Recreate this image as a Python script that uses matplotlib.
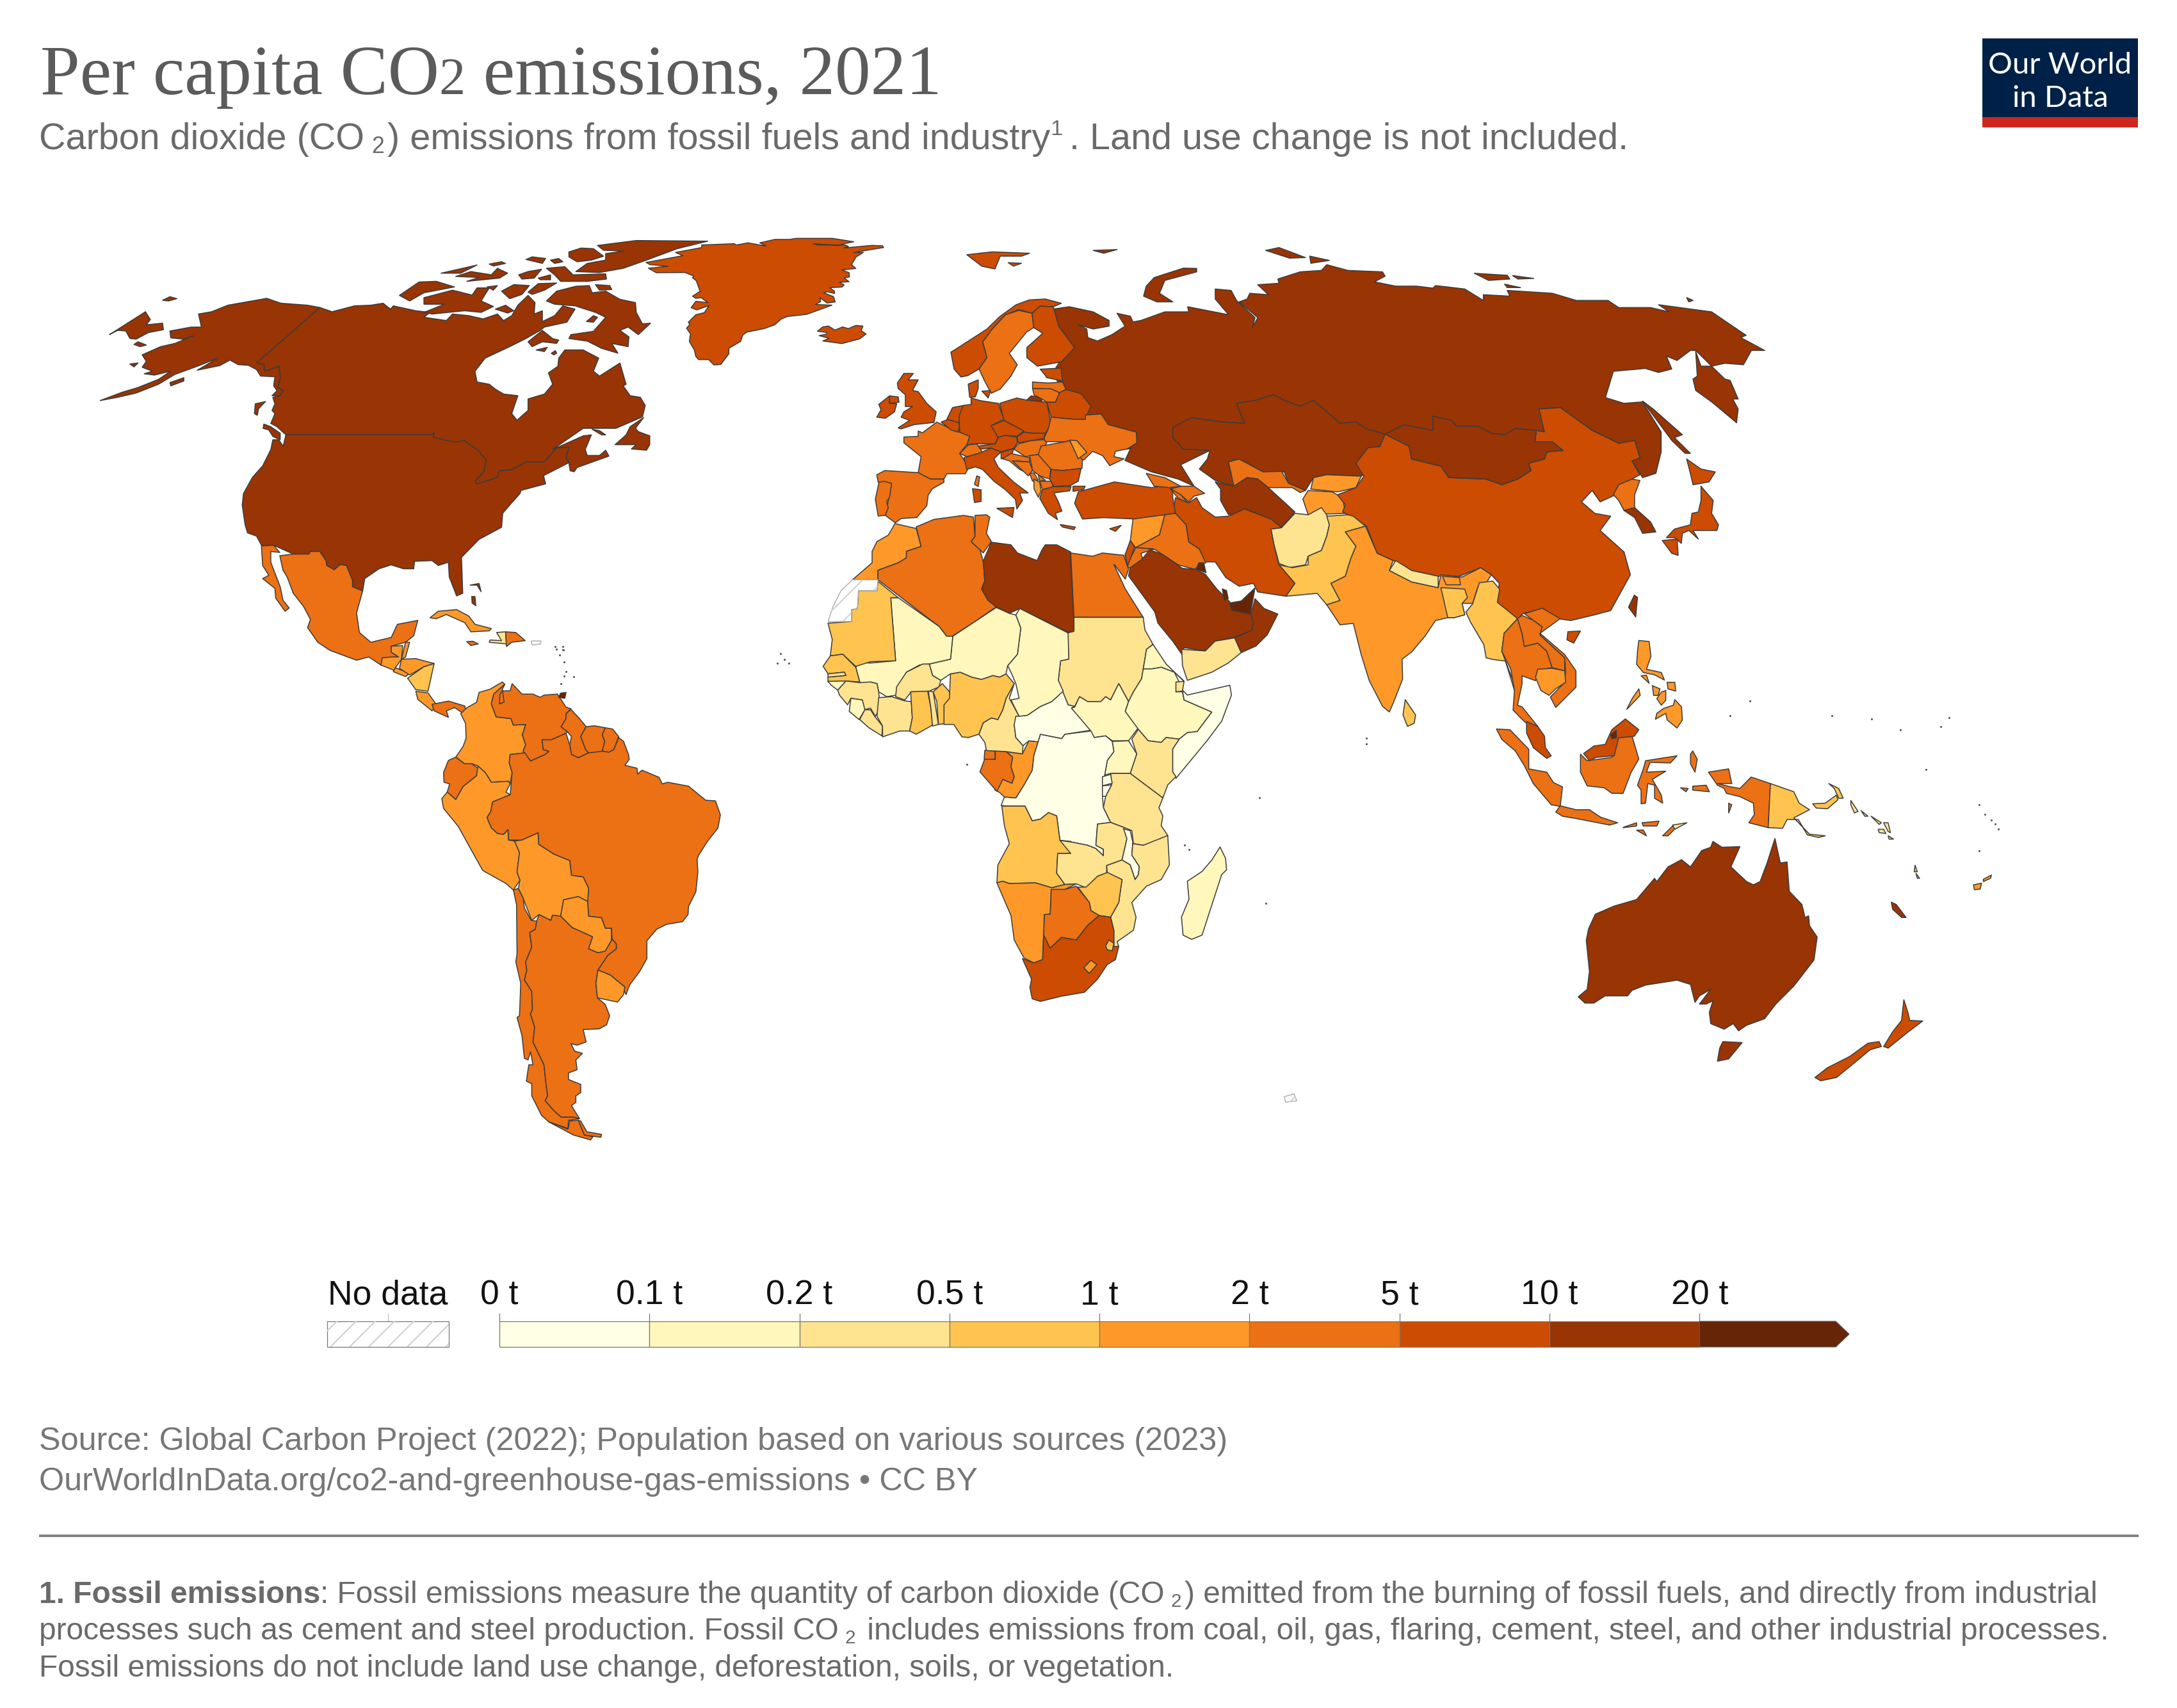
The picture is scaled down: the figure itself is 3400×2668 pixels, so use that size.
import matplotlib
matplotlib.use("Agg")
import matplotlib.pyplot as plt
from matplotlib.patches import Polygon, Rectangle
from matplotlib.collections import PatchCollection
from matplotlib.colors import BoundaryNorm, ListedColormap
import numpy as np

# ---------- value scale ----------
BIN_EDGES = [0, 0.1, 0.2, 0.5, 1, 2, 5, 10, 20, 1000]
BIN_LABELS = ["0 t", "0.1 t", "0.2 t", "0.5 t", "1 t", "2 t", "5 t", "10 t", "20 t"]
BIN_COLORS = ["#ffffe5", "#fff7bc", "#fee391", "#fec44f", "#fe9929", "#ec7014", "#cc4c02", "#993404", "#662506"]

CO2 = {
 "Canada":14.3,"USA":14.9,"Mexico":3.0,"Cuba":1.6,"Haiti":.3,"Dominican Rep":2.6,"Jamaica":2.6,"Guatemala":1.1,"Belize":1.7,
 "El Salvador":1.2,"Honduras":1.1,"Nicaragua":.8,"Costa Rica":1.6,"Panama":2.4,"Trinidad":24,
 "Colombia":1.6,"Venezuela":2.2,"Guyana":3.0,"Suriname":3.2,"French Guiana":4.5,"Brazil":2.3,"Ecuador":2.2,"Peru":1.7,"Bolivia":1.8,
 "Paraguay":1.1,"Chile":4.4,"Argentina":4.0,"Uruguay":1.9,
 "Morocco":1.8,"Algeria":3.7,"Tunisia":2.6,"Libya":11,"Egypt":2.3,"Sudan":.45,"South Sudan":.17,"Eritrea":.19,"Ethiopia":.17,"Djibouti":.4,
 "Somalia":.05,"Kenya":.38,"Uganda":.13,"Rwanda":.09,"Burundi":.05,"Tanzania":.26,"DRC":.04,"Congo":1.3,"Gabon":2.8,"Eq Guinea":2.4,
 "Cameroon":.35,"Nigeria":.6,"CAR":.04,"Chad":.14,"Niger":.12,"Mali":.19,"Mauritania":.9,"Senegal":.7,"Gambia":.25,"Guinea-Bissau":.15,
 "Guinea":.35,"Sierra Leone":.12,"Liberia":.3,"Ivory Coast":.4,"Burkina Faso":.26,"Ghana":.6,"Togo":.3,"Benin":.6,"Angola":.6,"Zambia":.4,
 "Malawi":.08,"Mozambique":.25,"Zimbabwe":.6,"Botswana":2.6,"Namibia":1.6,"South Africa":7.3,"Eswatini":.9,"Lesotho":1.2,"Madagascar":.13,
 "Saudi Arabia":18.7,"Yemen":.3,"Oman":15,"UAE":25,"Qatar":35,"Kuwait":25,"Iraq":4,"Iran":8,"Syria":1.5,"Jordan":2.1,"Israel":6.5,
 "Turkey":5.1,"Georgia":3,"Armenia":2.3,"Azerbaijan":3.7,
 "Russia":12,"Kazakhstan":14,"Uzbekistan":3.4,"Turkmenistan":12,"Kyrgyzstan":1.5,"Tajikistan":1.1,"Afghanistan":.3,"Pakistan":.85,
 "Mongolia":11,"China":8,"India":1.9,"Nepal":.45,"Bhutan":1.9,"Bangladesh":.6,"Myanmar":.7,"Thailand":3.7,"Laos":2.6,"Vietnam":3.5,
 "Cambodia":1.2,"Malaysia":8,"Indonesia":2.2,"Brunei":22,"Philippines":1.3,"Taiwan":12,"North Korea":2.1,"South Korea":11.9,"Japan":8.6,
 "Sri Lanka":.7,"PNG":.8,"Timor-Leste":.4,"Solomon":.4,"Vanuatu":.6,"Fiji":1.1,"New Caledonia":15,"Australia":15,"New Zealand":6.2,
 "Greenland":9,"Iceland":9.5,
 "Norway":7.5,"Sweden":3.8,"Finland":6.5,"UK":5.1,"Ireland":7.7,"France":4.7,"Spain":4.9,"Portugal":3.9,"Belgium":8,"Netherlands":7.1,
 "Germany":8.1,"Denmark":5.1,"Poland":8.5,"Lithuania":4.7,"Latvia":3.8,"Estonia":8,"Belarus":6.3,"Ukraine":4.6,"Czechia":9.4,"Slovakia":6.5,
 "Austria":7.3,"Switzerland":4,"Italy":5.7,"Hungary":4.9,"Slovenia":6,"Croatia":4.8,"Bosnia":4.8,"Serbia":4.9,"Montenegro":4,"Kosovo":4.3,
 "North Macedonia":3.5,"Albania":1.7,"Greece":5.6,"Bulgaria":7,"Romania":4,"Moldova":1.7,"Cyprus":6,
 "Western Sahara":None,"Puerto Rico":None,
}

# ---------- outline frames: origin and scale from outline units to picture pixels ----------
FRAMES = {
 "z1":(120,340,1000/1568,800/1568),
 "z2":(620,1000,600/1568,800/1568),
 "z3":(1280,500,700/1568,500/1500),
 "z4":(1260,800,800/1568,800/1568),
 "z5":(1500,380,1300/1568,700/1568),
 "z6":(2100,900,1100/1568,800/1568),
 "gl":(990,360,1/3,1/3),
 "d":(0,0,3400/1568,3400/1568),
}

# ---------- country outlines ----------
OUTLINES_Z1 = [
("Canada",[(595,275),(440,445),(458,450),(460,470),(495,455),(498,490),(492,520),(505,530),(497,545),(480,550),(485,570),(478,590),(485,600),(475,630),(490,640),(512,665),(868,665),(875,658),(873,672),(905,682),(930,687),(948,682),(985,715),(990,725),(1002,740),(998,775),(975,808),(980,816),(1030,795),(1035,775),(1065,772),(1100,748),(1145,748),(1175,705),(1205,703),(1198,735),(1205,750),(1208,775),(1218,778),(1225,765),(1303,730),(1295,712),(1280,728),(1250,728),(1245,710),(1255,680),(1260,665),(1240,668),(1165,710),(1240,645),(1320,645),(1385,610),(1392,575),(1380,550),(1355,545),(1338,515),(1345,510),(1330,445),(1280,485),(1265,470),(1278,430),(1240,405),(1195,405),(1180,430),(1178,455),(1155,475),(1165,510),(1145,540),(1105,555),(1105,590),(1078,620),(1065,600),(1080,545),(1045,540),(1025,525),(1010,510),(980,503),(975,470),(1000,430),(1060,395),(1100,370),(1135,345),(1145,335),(1200,320),(1220,280),(1190,270),(1170,300),(1140,318),(1140,285),(1120,295),(1122,260),(1105,238),(1080,268),(1065,300),(1045,315),(1030,295),(995,310),(960,300),(920,295),(905,315),(850,305),(865,290),(830,285),(775,270),(768,280),(750,262),(720,268),(680,270),(625,288)]),
("USA",[(595,275),(565,268),(500,262),(465,247),(370,268),(330,288),(298,295),(305,335),(280,335),(228,347),(230,368),(260,372),(285,362),(240,385),(205,395),(160,420),(170,440),(160,458),(185,470),(165,478),(190,482),(230,470),(200,495),(150,520),(110,535),(57,560),(100,550),(145,537),(200,510),(240,480),(295,455),(345,430),(295,467),(350,453),(375,436),(395,450),(420,452),(440,465),(450,485),(485,487),(482,515),(490,530),(478,545),(497,545),(505,530),(492,520),(498,490),(495,455),(460,470),(458,450),(440,445)]),
("USA",[(512,665),(505,700),(495,680),(480,680),(475,710),(455,760),(430,795),(408,845),(405,880),(412,940),(418,965),(440,975),(452,1003),(482,1003),(530,1030),(568,1030),(572,1022),(595,1022),(610,1050),(612,1065),(630,1078),(645,1062),(660,1065),(675,1110),(675,1130),(700,1143),(705,1105),(740,1075),(770,1063),(800,1075),(825,1075),(827,1052),(870,1050),(885,1065),(910,1055),(912,1100),(930,1158),(945,1150),(942,1040),(985,985),(1040,948),(1043,905),(1060,880),(1085,845),(1088,835),(1148,815),(1143,790),(1205,750),(1198,735),(1205,703),(1175,705),(1145,748),(1100,748),(1065,772),(1035,775),(1030,795),(980,816),(975,808),(998,775),(1002,740),(990,725),(985,715),(948,682),(930,687),(905,682),(873,672),(875,658),(868,665)]),
("Canada",[(458,632),(475,640),(498,660),(498,680),(480,670),(470,650),(456,645)]),
("Canada",[(437,570),(462,563),(445,585),(442,605),(435,600)]),
("Canada",[(1388,612),(1355,640),(1345,665),(1318,695),(1370,695),(1358,708),(1395,712),(1403,695),(1403,668),(1375,655),(1368,645)]),
("Canada",[(1262,648),(1280,652),(1295,665),(1285,665)]),
("Canada",[(1405,323),(1385,325),(1370,290),(1368,260),(1330,250),(1295,225),(1262,230),(1255,208),(1222,210),(1175,225),(1150,255),(1170,265),(1220,270),(1270,290),(1295,305),(1265,348),(1210,358),(1205,370),(1250,378),(1285,400),(1325,415),(1310,385),(1350,395),(1352,365),(1330,345),(1350,335),(1375,358)]),
("Canada",[(1140,345),(1105,380),(1115,395),(1140,380),(1175,385),(1180,375),(1165,370)]),
("Canada",[(850,245),(920,222),(968,237),(980,215),(1010,215),(990,255),(1020,272),(990,290),(950,285),(870,295),(850,290),(900,265),(850,265)]),
("Canada",[(790,238),(838,197),(880,195),(925,212),(850,230),(815,255)]),
("Canada",[(1275,85),(1370,70),(1545,72),(1470,95),(1395,130),(1338,155),(1280,168),(1222,165),(1250,140),(1295,130),(1295,110),(1340,102),(1290,100)]),
("Canada",[(1205,105),(1235,93),(1265,95),(1290,118),(1260,130),(1225,135),(1205,120)]),
("Canada",[(1150,155),(1195,150),(1215,175),(1295,172),(1297,188),(1250,195),(1185,195),(1170,175)]),
("Canada",[(1105,228),(1130,202),(1175,200),(1145,222),(1115,235)]),
("Canada",[(1040,225),(1070,205),(1108,208),(1090,235),(1060,248)]),
("Canada",[(892,170),(980,145),(940,170)]),
("Canada",[(928,180),(965,165),(1015,175),(1030,155),(1055,170),(1035,185),(955,195),(985,183)]),
("Canada",[(1082,175),(1105,165),(1138,158),(1120,185),(1090,188)]),
("Canada",[(1130,185),(1160,175),(1160,190),(1135,190)]),
("Canada",[(1010,142),(1040,135),(1050,140),(1020,148)]),
("Canada",[(1100,128),(1115,120),(1148,125),(1140,140)]),
("Canada",[(1160,130),(1180,125),(1190,135),(1170,140)]),
("Canada",[(1270,205),(1305,208),(1310,220),(1280,222)]),
("Canada",[(1248,318),(1265,300),(1275,305),(1265,320)]),
("Canada",[(1025,280),(1050,268),(1070,285),(1055,292)]),
("Canada",[(1005,212),(1030,208),(1020,222)]),
("Canada",[(1125,405),(1152,397),(1145,410)]),
("Canada",[(1162,415),(1172,407),(1175,415),(1168,420)]),
("USA",[(80,358),(168,288),(180,312),(170,328),(210,323),(212,343),(175,352),(145,372),(130,370),(120,347),(100,345)]),
("USA",[(210,253),(228,242),(245,248),(225,255)]),
("USA",[(140,388),(150,380),(170,390),(155,395)]),
("USA",[(130,448),(150,445),(140,457)]),
("USA",[(228,505),(262,490),(262,500),(230,515)]),
("Mexico",[(497,1035),(530,1030),(568,1030),(572,1022),(595,1022),(610,1050),(612,1065),(630,1078),(645,1062),(660,1065),(675,1110),(675,1130),(700,1143),(685,1210),(692,1270),(720,1300),(770,1285),(785,1245),(835,1233),(825,1280),(805,1300),(770,1312),(770,1330),(788,1345),(748,1348),(745,1370),(715,1345),(685,1355),(620,1325),(590,1300),(565,1255),(572,1230),(555,1190),(530,1150),(515,1100),(505,1080)]),
("Mexico",[(452,1005),(482,1003),(497,1025),(475,1022),(475,1055),(498,1130),(505,1172),(520,1195),(510,1205),(487,1165),(485,1135),(455,1105),(470,1095),(455,1065)]),
("Cuba",[(865,1225),(885,1205),(930,1200),(960,1220),(975,1245),(1015,1258),(1010,1265),(965,1268),(950,1240),(905,1215),(880,1228)]),
("Haiti",[(1028,1270),(1050,1268),(1052,1305),(1010,1300),(1012,1293),(1040,1295)]),
("Dominican Rep",[(1050,1268),(1075,1270),(1098,1295),(1065,1300),(1052,1313)]),
("Jamaica",[(955,1298),(970,1297),(983,1305),(965,1310)]),
("Puerto Rico",[(1113,1296),(1137,1296),(1135,1306),(1115,1308)]),
("USA",[(963,1125),(985,1120),(990,1145),(980,1125)]),
("USA",[(967,1160),(975,1160),(977,1188),(968,1180)]),
("Guatemala",[(748,1348),(770,1345),(788,1345),(770,1330),(770,1312),(798,1310),(795,1352),(780,1378),(785,1390),(745,1370)]),
("Belize",[(805,1300),(815,1300),(805,1345),(795,1352)]),
("El Salvador",[(780,1378),(815,1395),(805,1405),(775,1390)]),
("Honduras",[(795,1352),(830,1350),(875,1365),(850,1375),(815,1400),(790,1380)]),
("Nicaragua",[(875,1365),(860,1450),(830,1445),(810,1410),(850,1375)]),
("Costa Rica",[(830,1450),(860,1455),(880,1490),(870,1510),(835,1475)]),
("Panama",[(870,1490),(910,1480),(950,1495),(955,1525),(925,1500),(905,1510),(910,1530),(875,1510)]),
]

OUTLINES_Z2 = [
("Colombia",[(285,207),(325,190),(335,160),(380,150),(430,128),(440,135),(395,165),(385,195),(405,235),(465,240),(475,260),(525,258),(512,290),(525,320),(515,340),(522,345),(462,350),(458,375),(470,405),(462,440),(455,432),(385,435),(360,405),(330,385),(305,378),(275,378),(240,358),(270,325),(282,300),(280,255),(260,225)]),
("Venezuela",[(440,135),(395,165),(385,195),(405,235),(465,240),(475,260),(525,258),(512,290),(525,320),(515,340),(545,370),(605,350),(620,340),(597,335),(592,305),(630,305),(690,285),(695,280),(670,265),(690,240),(690,225),(710,210),(690,205),(655,165),(600,168),(585,175),(555,165),(510,165),(470,133),(462,155),(430,155),(420,165),(418,195),(437,190),(430,150)]),
("Guyana",[(710,212),(745,240),(772,265),(750,295),(770,335),(782,345),(740,360),(712,350),(705,320),(712,295),(695,280),(670,265),(690,240),(690,225)]),
("Suriname",[(772,265),(805,262),(850,268),(838,290),(848,310),(838,340),(800,348),(782,345),(770,335),(750,295)]),
("French Guiana",[(850,268),(880,272),(905,295),(885,335),(865,343),(838,340),(848,310),(838,290)]),
("Brazil",[(905,298),(925,310),(945,350),(948,365),(930,383),(980,392),(982,410),(1000,398),(1070,420),(1082,440),(1105,435),(1190,447),(1260,490),(1300,492),(1320,535),(1310,575),(1268,615),(1230,660),(1225,670),(1228,710),(1220,770),(1190,815),(1188,840),(1165,862),(1100,870),(1060,885),(1020,920),(1020,975),(990,1015),(950,1055),(935,1085),(925,1070),(930,1062),(870,1025),(820,1010),(860,965),(895,945),(895,930),(878,915),(875,882),(850,882),(835,850),(782,845),(778,800),(782,760),(760,725),(712,720),(705,675),(640,655),(578,625),(576,590),(510,612),(455,612),(453,580),(435,595),(410,592),(385,575),(367,543),(382,525),(390,495),(462,473),(470,405),(458,375),(462,350),(522,345),(545,370),(605,350),(620,340),(597,335),(592,305),(630,305),(690,285),(705,320),(712,350),(740,360),(782,345),(838,340),(865,343),(885,335)]),
("Ecuador",[(240,358),(275,378),(305,378),(330,392),(325,415),(270,448),(240,488),(205,465),(215,440),(192,435),(190,405),(210,368)]),
("Peru",[(330,385),(360,405),(385,435),(455,432),(462,440),(445,465),(462,473),(390,495),(382,525),(367,543),(385,575),(410,592),(435,595),(453,580),(455,612),(480,615),(500,650),(490,710),(502,735),(475,765),(445,745),(350,705),(320,665),(250,570),(190,515),(183,485),(205,465),(240,488),(270,448),(325,415)]),
("Bolivia",[(480,615),(510,612),(576,590),(578,625),(640,655),(705,675),(712,720),(760,725),(782,760),(778,800),(740,785),(680,795),(668,845),(635,842),(628,858),(580,840),(550,858),(515,790),(495,760),(502,735),(490,710),(500,650)]),
("Paraguay",[(680,795),(740,785),(778,800),(782,845),(835,850),(850,882),(875,882),(875,920),(850,952),(820,957),(782,945),(798,908),(715,880),(668,845)]),
("Chile",[(475,765),(495,760),(515,790),(520,820),(548,858),(570,860),(565,885),(542,895),(550,940),(525,985),(530,1010),(520,1040),(550,1075),(553,1130),(545,1145),(562,1185),(555,1230),(600,1300),(610,1370),(615,1395),(605,1410),(640,1440),(670,1460),(720,1460),(745,1465),(700,1470),(698,1495),(620,1475),(590,1455),(550,1395),(550,1358),(528,1350),(538,1300),(555,1300),(545,1260),(535,1285),(520,1280),(510,1210),(490,1155),(500,1150),(505,1050),(485,985),(490,960),(488,810)]),
("Argentina",[(570,860),(580,840),(628,858),(635,842),(668,845),(715,880),(798,908),(782,945),(820,957),(850,952),(875,920),(878,915),(895,930),(895,945),(860,965),(820,1010),(812,1050),(818,1095),(850,1115),(868,1150),(855,1178),(825,1190),(760,1192),(772,1230),(735,1240),(710,1235),(725,1258),(757,1265),(730,1285),(735,1315),(700,1325),(700,1345),(750,1360),(750,1385),(730,1395),(730,1415),(712,1425),(745,1465),(720,1460),(670,1460),(640,1440),(605,1410),(615,1395),(610,1370),(600,1300),(555,1230),(562,1185),(545,1145),(553,1130),(550,1075),(520,1040),(530,1010),(525,985),(550,940),(542,895),(565,885)]),
("Chile",[(620,1475),(698,1497),(705,1472),(740,1470),(765,1515),(800,1520),(790,1530),(720,1515)]),
("Argentina",[(740,1470),(750,1472),(775,1505),(835,1513),(832,1522),(765,1515)]),
("Uruguay",[(820,1010),(870,1025),(930,1062),(925,1085),(900,1108),(850,1100),(818,1095),(812,1050)]),
("Trinidad",[(660,175),(668,162),(690,160),(685,178)]),
]

OUTLINES_Z5 = [
("Russia",[(175,230),(205,222),(250,240),(280,270),(280,290),(250,300),(222,285),(238,300),(240,330),(258,342),(285,320),(310,290),(295,245),(320,255),(325,275),(340,270),(385,240),(430,240),(428,222),(505,250),(480,195),(480,160),(510,165),(520,200),(555,260),(550,295),(560,260),(525,205),(540,195),(545,175),(580,180),(560,145),(600,140),(598,125),(640,100),(680,95),(690,75),(730,95),(795,100),(800,115),(780,135),(820,150),(860,150),(890,157),(895,148),(950,160),(985,200),(985,180),(1035,185),(1030,165),(1115,175),(1160,200),(1220,200),(1240,225),(1300,225),(1335,240),(1315,215),(1415,240),(1480,322),(1470,330),(1515,375),(1490,375),(1475,425),(1440,420),(1415,430),(1385,375),(1375,375),(1350,410),(1330,395),(1340,440),(1315,452),(1290,438),(1230,448),(1215,540),(1250,560),(1285,555),(1320,660),(1320,730),(1310,805),(1285,820),(1265,762),(1280,750),(1270,690),(1240,700),(1190,655),(1130,575),(1090,580),(1100,660),(1085,655),(1045,648),(1025,670),(1000,665),(975,640),(935,640),(925,620),(890,605),(890,655),(835,635),(800,668),(765,650),(745,625),(715,630),(665,550),(640,570),(610,550),(590,530),(555,550),(520,560),(535,630),(490,625),(435,610),(415,640),(400,680),(420,720),(470,725),(415,775),(440,850),(410,825),(380,810),(360,800),(310,760),(325,700),(320,660),(270,635),(255,610),(235,605),(235,575),(220,530),(190,515),(175,450),(185,420),(210,365),(180,290)]),
("Russia",[(1385,378),(1395,430),(1415,430),(1440,475),(1450,480),(1465,545),(1455,545),(1465,580),(1462,628),(1415,555),(1385,515),(1380,475),(1388,465)]),
("Russia",[(1285,552),(1305,580),(1360,670),(1345,680),(1375,735),(1365,735),(1340,690),(1320,640)]),
("Russia",[(445,88),(420,87),(365,120),(350,150),(345,185),(370,205),(400,205),(375,175),(385,130),(445,100)]),
("Russia",[(250,25),(295,22),(270,35)]),
("Russia",[(575,25),(600,15),(650,50),(620,52)]),
("Russia",[(658,45),(695,60),(660,70)]),
("Russia",[(968,105),(1030,112),(1035,125),(995,130)]),
("Russia",[(1040,113),(1080,123),(1050,125)]),
("Russia",[(1025,143),(1055,155),(1030,155)]),
("Russia",[(1368,190),(1380,200),(1372,205)]),
("Norway",[(12,40),(60,30),(130,35),(115,45),(75,45),(65,90),(40,80)]),
("Norway",[(90,68),(115,70),(100,80)]),
("Norway",[(0,360),(50,300),(75,255),(105,215),(130,198),(160,195),(190,210),(175,222),(150,220),(135,245),(110,232),(85,250),(60,300),(42,345),(50,400),(35,440),(14,463),(1,468),(-12,440),(-18,381)]),
("Sweden",[(110,235),(135,245),(138,295),(125,310),(92,385),(107,425),(95,465),(75,510),(58,525),(45,480),(35,440),(50,400),(42,345),(60,300),(85,250)]),
("Finland",[(135,245),(150,220),(175,222),(185,290),(215,365),(190,415),(145,430),(125,400),(125,365),(155,315),(138,295)]),
("Kazakhstan",[(400,645),(435,610),(490,625),(535,630),(520,560),(555,550),(590,530),(610,550),(640,570),(665,550),(715,630),(745,625),(765,650),(800,668),(790,712),(768,715),(745,770),(765,805),(755,815),(690,810),(665,820),(650,865),(618,840),(610,800),(570,800),(525,755),(505,765),(515,850),(480,830),(450,790),(465,755),(470,725),(420,720),(400,680)]),
("Uzbekistan",[(505,765),(525,755),(570,800),(605,798),(618,840),(650,865),(640,872),(625,855),(580,855),(560,825),(540,820),(515,850)]),
("Turkmenistan",[(480,835),(515,850),(540,820),(560,825),(580,855),(630,940),(605,995),(585,965),(535,930),(520,945),(505,950),(490,900),(490,860)]),
("Kyrgyzstan",[(665,820),(690,810),(755,815),(745,855),(710,870),(660,860)]),
("Tajikistan",[(645,895),(655,865),(700,870),(720,890),(725,945),(655,950)]),
("China",[(800,668),(845,710),(850,755),(905,780),(920,820),(990,825),(1020,845),(1050,825),(1075,795),(1070,770),(1100,755),(1105,730),(1135,725),(1115,695),(1082,695),(1085,655),(1100,660),(1090,580),(1130,575),(1190,655),(1240,700),(1270,690),(1280,750),(1265,762),(1280,810),(1265,825),(1240,875),(1205,905),(1190,865),(1170,905),(1195,945),(1225,955),(1205,1005),(1250,1080),(1262,1160),(1225,1285),(1195,1300),(1150,1320),(1130,1315),(1095,1280),(1060,1295),(1050,1315),(1035,1295),(1010,1255),(1015,1190),(1000,1160),(980,1135),(940,1165),(900,1165),(850,1145),(815,1110),(785,1085),(765,990),(730,950),(720,940),(725,915),(710,880),(745,855),(760,815),(745,770),(768,715),(790,712)]),
("Mongolia",[(800,668),(835,635),(890,655),(890,605),(925,620),(935,640),(975,640),(1000,665),(1025,670),(1045,648),(1085,655),(1082,695),(1115,695),(1135,725),(1105,730),(1100,755),(1070,770),(1075,795),(1050,825),(1020,845),(990,825),(920,820),(905,780),(850,755),(845,710)]),
("Afghanistan",[(630,945),(655,950),(680,925),(690,950),(695,985),(690,1025),(680,1075),(655,1095),(650,1125),(620,1135),(600,1120),(590,1050),(585,1000),(605,995)]),
("Pakistan",[(600,1125),(625,1135),(655,1125),(655,1095),(680,1075),(690,1025),(695,985),(690,955),(730,950),(740,955),(763,990),(725,1010),(745,1060),(735,1105),(725,1165),(698,1190),(715,1250),(690,1265),(672,1225),(613,1235),(630,1190)]),
("Iran",[(405,890),(430,908),(445,890),(455,925),(480,958),(505,955),(535,930),(585,965),(605,995),(585,1000),(590,1050),(600,1125),(630,1190),(613,1235),(560,1220),(552,1190),(525,1200),(500,1170),(480,1115),(460,1115),(450,1070),(430,1045),(425,985),(400,945)]),
("Turkey",[(222,870),(290,835),(360,855),(400,845),(400,890),(405,945),(330,965),(270,960),(230,965),(215,910)]),
("Turkey",[(212,850),(235,850),(232,862),(212,868)]),
("Georgia",[(350,805),(385,820),(415,850),(395,855),(365,850)]),
("Azerbaijan",[(415,850),(440,850),(460,875),(440,885),(430,905),(415,880),(395,860)]),
("Armenia",[(395,858),(415,880),(428,908),(410,892)]),
("Syria",[(325,965),(385,950),(375,1020),(330,1065),(320,1040)]),
("Iraq",[(385,950),(405,945),(425,985),(430,1045),(450,1070),(462,1118),(440,1140),(410,1125),(365,1070),(330,1065),(375,1020)]),
("Jordan",[(330,1065),(365,1070),(340,1085),(345,1115),(320,1135),(310,1135),(325,1085)]),
("Israel",[(320,1040),(328,1063),(315,1130),(310,1090)]),
("India",[(725,1010),(763,990),(785,1085),(815,1110),(808,1145),(850,1185),(900,1205),(905,1160),(945,1168),(980,1135),(1000,1160),(990,1190),(975,1200),(965,1260),(945,1260),(950,1300),(930,1310),(918,1310),(895,1320),(875,1375),(850,1430),(832,1455),(833,1525),(815,1610),(808,1640),(795,1620),(770,1530),(755,1440),(740,1330),(715,1335),(690,1265),(715,1250),(698,1190),(725,1165),(735,1105),(745,1060)]),
("Nepal",[(808,1145),(820,1110),(850,1145),(900,1165),(900,1205),(850,1185)]),
("Bhutan",[(908,1165),(940,1170),(942,1195),(915,1195)]),
("Bangladesh",[(905,1205),(950,1210),(955,1240),(945,1260),(950,1300),(930,1310),(918,1310)]),
("Japan",[(1395,850),(1418,900),(1415,945),(1428,985),(1425,1005),(1380,1005),(1390,1035),(1372,1005),(1360,1015),(1358,1050),(1345,1030),(1330,1030),(1345,1000),(1375,985),(1378,945),(1390,940),(1395,900)]),
("Japan",[(1368,755),(1395,790),(1422,800),(1410,835),(1380,845),(1375,805)]),
("Japan",[(1322,1040),(1350,1035),(1352,1092),(1340,1085)]),
("North Korea",[(1240,845),(1265,825),(1280,830),(1270,880),(1270,925),(1250,935),(1240,900),(1230,880)]),
("South Korea",[(1250,935),(1270,925),(1300,975),(1310,1010),(1285,1015),(1270,960)]),
]

OUTLINES_Z3 = [
("Ireland",[(245,355),(245,390),(270,392),(262,430),(230,460),(200,455),(215,420),(207,395)]),
("UK",[(245,355),(275,360),(278,385),(245,390)]),
("UK",[(295,250),(328,250),(310,280),(345,280),(325,330),(345,335),(375,390),(408,430),(400,480),(330,490),(285,510),(275,505),(315,470),(285,455),(295,430),(325,405),(300,405),(300,350),(275,320),(272,295)]),
("France",[(410,478),(460,510),(525,542),(520,575),(490,625),(510,665),(518,700),(510,720),(445,720),(435,745),(388,745),(345,715),(355,640),(295,575),(295,548),(345,545),(345,520),(360,528)]),
("France",[(550,730),(560,735),(555,780),(542,770)]),
("Spain",[(228,705),(345,715),(388,745),(435,745),(435,760),(395,790),(380,820),(375,870),(340,925),(285,930),(265,950),(230,915),(240,850),(250,780),(205,760),(200,725)]),
("Portugal",[(208,760),(225,755),(252,765),(245,830),(235,850),(240,880),(230,915),(205,918),(195,840)]),
("Belgium",[(425,478),(450,465),(487,480),(490,500),(485,525),(460,515)]),
("Netherlands",[(445,465),(465,410),(503,400),(500,440),(487,480)]),
("Germany",[(530,365),(565,378),(625,390),(645,465),(600,495),(625,545),(615,580),(540,580),(515,585),(525,545),(490,525),(488,450),(503,400),(530,395)]),
("Denmark",[(520,300),(555,280),(555,320),(545,360),(525,362)]),
("Denmark",[(568,333),(598,330),(590,365)]),
("Poland",[(630,390),(690,365),(725,375),(795,385),(810,490),(790,530),(745,530),(715,525),(680,495),(645,470)]),
("Russia",[(725,375),(740,355),(775,362),(778,380)]),
("Lithuania",[(745,320),(810,322),(840,340),(825,385),(795,385),(778,370),(750,350)]),
("Latvia",[(745,290),(800,295),(850,290),(862,325),(840,340),(810,322),(745,320)]),
("Estonia",[(772,230),(845,225),(850,285),(795,270),(790,260)]),
("Belarus",[(840,340),(862,325),(915,345),(950,405),(935,445),(930,465),(890,465),(810,455),(795,385),(825,385)]),
("Ukraine",[(810,455),(890,465),(930,465),(930,445),(985,440),(1010,490),(1108,525),(1110,575),(1075,605),(1090,600),(1035,615),(1030,640),(1065,650),(1015,682),(990,635),(955,615),(925,655),(905,650),(925,620),(875,565),(860,570),(790,570),(785,555),(800,510)]),
("Czechia",[(600,495),(645,470),(680,495),(715,520),(690,545),(650,540),(625,550)]),
("Slovakia",[(690,548),(715,525),(745,530),(790,530),(785,555),(740,565),(695,575)]),
("Austria",[(555,590),(615,580),(625,550),(650,540),(690,548),(692,575),(680,600),(635,618),(600,600),(560,605)]),
("Switzerland",[(490,625),(520,585),(550,580),(570,620),(515,640)]),
("Italy",[(505,645),(555,625),(600,600),(635,618),(610,650),(625,690),(680,760),(730,810),(700,810),(710,845),(690,885),(685,840),(650,795),(610,755),(570,700),(545,688),(515,700)]),
("Italy",[(620,882),(680,878),(675,925)]),
("Italy",[(535,790),(565,795),(565,850),(542,855)]),
("Hungary",[(695,580),(740,565),(785,560),(795,575),(765,630),(720,640),(680,605)]),
("Slovenia",[(635,620),(680,602),(670,640),(635,650)]),
("Croatia",[(640,650),(670,625),(735,645),(735,665),(690,660),(740,725),(700,700),(665,660)]),
("Bosnia",[(675,660),(735,665),(745,705),(730,730)]),
("Serbia",[(735,635),(765,630),(810,680),(805,745),(770,730),(745,705)]),
("Montenegro",[(735,720),(750,715),(765,750),(745,755)]),
("Kosovo",[(765,725),(790,750),(770,755)]),
("North Macedonia",[(770,755),(810,755),(818,780),(780,795)]),
("Albania",[(750,745),(770,760),(775,800),(765,830),(750,790)]),
("Greece",[(780,795),(820,780),(880,780),(875,800),(820,810),(835,850),(848,895),(825,905),(832,935),(800,905),(770,835)]),
("Greece",[(842,958),(895,970),(890,982),(850,970)]),
("Romania",[(775,590),(860,570),(875,565),(910,640),(920,655),(918,695),(850,705),(810,700),(765,630)]),
("Bulgaria",[(810,700),(850,705),(915,695),(905,755),(878,775),(820,780),(805,745)]),
("Moldova",[(875,562),(900,565),(935,620),(905,650)]),
("Cyprus",[(1015,978),(1055,962),(1035,990)]),
]

OUTLINES_Z4 = [
("Morocco",[(270,35),(335,50),(350,105),(305,120),(305,140),(280,155),(218,178),(218,207),(140,207),(200,155),(200,120),(215,90),(250,70)]),
("Western Sahara",[(140,207),(218,207),(215,240),(158,240),(155,295),(137,298),(137,335),(65,335),(80,290),(105,240)]),
("Algeria",[(335,45),(390,22),(480,10),(510,15),(515,75),(503,90),(530,115),(540,150),(545,210),(535,235),(555,270),(580,290),(500,345),(445,380),(428,380),(405,350),(218,207),(218,178),(280,155),(305,140),(305,120),(350,105)]),
("Tunisia",[(515,10),(550,8),(560,15),(550,65),(565,90),(540,125),(530,115),(503,90),(515,75)]),
("Libya",[(565,92),(625,100),(645,125),(705,148),(720,115),(730,100),(765,100),(808,122),(808,160),(820,365),(800,368),(652,295),(620,310),(580,290),(555,270),(535,235),(545,210),(540,150)]),
("Egypt",[(808,125),(875,135),(905,125),(970,132),(985,175),(975,205),(945,165),(940,160),(975,235),(1000,275),(1030,322),(818,322)]),
("Sudan",[(818,322),(1030,322),(1035,360),(1060,405),(1040,420),(1030,480),(1025,510),(1000,550),(985,580),(955,525),(930,575),(915,565),(900,580),(860,580),(835,565),(820,595),(800,590),(783,550),(770,515),(777,455),(802,450),(798,370),(818,365)]),
("South Sudan",[(820,597),(835,565),(860,580),(900,580),(915,565),(930,575),(955,525),(985,580),(975,610),(1015,660),(985,700),(935,700),(915,685),(880,690),(868,670),(830,630),(810,600)]),
("Eritrea",[(1060,405),(1100,465),(1155,518),(1125,490),(1085,475),(1055,480),(1030,480),(1040,420)]),
("Ethiopia",[(1030,480),(1055,480),(1085,475),(1125,490),(1140,520),(1130,550),(1150,550),(1155,575),(1240,612),(1195,672),(1165,675),(1140,695),(1100,690),(1085,705),(1045,700),(1015,665),(975,610),(985,580),(1000,550),(1025,510)]),
("Djibouti",[(1130,520),(1155,518),(1150,548),(1130,550)]),
("Somalia",[(1150,545),(1165,560),(1295,530),(1300,560),(1270,640),(1225,700),(1130,815),(1120,795),(1120,725),(1140,695),(1165,675),(1195,672),(1240,612),(1155,575)]),
("Kenya",[(1015,665),(1045,700),(1085,705),(1100,690),(1140,695),(1120,725),(1120,795),(1130,810),(1105,835),(1090,875),(990,800),(1010,740),(995,695)]),
("Uganda",[(935,702),(985,700),(1010,740),(990,800),(930,800),(912,805),(920,760),(940,733)]),
("Tanzania",[(930,800),(990,800),(1090,875),(1078,905),(1090,930),(1085,960),(1105,990),(1070,1010),(1030,1020),(1000,1015),(995,975),(970,965),(930,950),(908,905),(915,870),(933,835)]),
("DRC",[(715,680),(780,693),(790,680),(870,670),(880,690),(915,685),(935,702),(940,733),(920,760),(912,805),(905,870),(908,905),(930,950),(890,955),(885,1020),(908,1032),(908,1052),(885,1030),(860,1020),(810,1010),(775,1005),(765,930),(740,920),(715,940),(690,945),(668,900),(610,900),(595,898),(605,872),(640,875),(665,835),(690,790),(695,745),(708,703)]),
("Rwanda",[(905,810),(930,803),(935,830),(905,838)]),
("Burundi",[(905,838),(933,835),(915,870),(905,870)]),
("Congo",[(680,700),(708,703),(695,745),(690,790),(665,835),(640,875),(605,872),(590,858),(575,850),(600,818),(628,830),(635,810),(625,780),(630,750),(610,733),(660,740)]),
("Gabon",[(545,755),(577,757),(577,730),(610,733),(630,750),(625,780),(635,810),(628,830),(600,818),(582,855),(530,795)]),
("Eq Guinea",[(545,730),(577,730),(577,757),(542,757)]),
("Cameroon",[(635,525),(620,570),(650,625),(635,650),(640,690),(662,715),(660,740),(610,733),(550,730),(545,705),(527,680),(540,645),(565,630),(585,635),(600,605),(610,570)]),
("Nigeria",[(440,495),(470,490),(505,505),(535,512),(570,500),(590,505),(610,495),(635,525),(610,570),(600,605),(585,635),(565,630),(540,645),(527,680),(495,690),(475,688),(450,650),(420,650),(420,590),(437,560)]),
("CAR",[(640,625),(675,622),(715,595),(750,580),(783,548),(800,590),(820,595),(810,600),(868,668),(790,680),(780,693),(715,680),(708,703),(680,700),(662,715),(640,690),(635,650)]),
("Chad",[(652,295),(800,370),(802,450),(777,455),(770,515),(785,548),(750,580),(715,595),(675,622),(650,625),(625,575),(650,570),(640,525),(625,490),(615,470),(645,435),(655,355),(640,315)]),
("Niger",[(580,292),(620,310),(640,315),(655,355),(645,435),(615,470),(610,495),(590,505),(570,500),(535,512),(505,505),(470,490),(440,495),(410,515),(385,500),(375,465),(440,450),(447,380),(500,345)]),
("Mali",[(257,262),(280,262),(405,350),(428,380),(447,380),(440,450),(375,465),(345,468),(305,490),(275,560),(245,565),(220,550),(215,525),(195,520),(165,530),(150,475),(160,460),(195,462),(272,455)]),
("Mauritania",[(65,340),(137,335),(137,298),(155,295),(158,240),(215,240),(218,212),(280,262),(257,262),(272,455),(195,458),(150,472),(110,435),(72,440),(78,390)]),
("Senegal",[(50,472),(72,440),(110,435),(150,475),(162,520),(120,517),(65,520),(65,505),(120,500),(115,490),(65,495)]),
("Gambia",[(65,495),(115,490),(120,500),(65,505)]),
("Guinea-Bissau",[(65,518),(120,517),(95,545),(75,530)]),
("Guinea",[(120,517),(162,522),(195,520),(215,525),(220,550),(225,600),(210,625),(195,600),(175,605),(170,575),(135,570),(125,590),(100,560),(95,545)]),
("Sierra Leone",[(135,570),(170,575),(178,605),(160,635),(130,610)]),
("Liberia",[(178,605),(195,605),(210,628),(232,655),(230,685),(190,660),(162,635)]),
("Ivory Coast",[(220,568),(260,565),(300,578),(320,580),(323,630),(315,670),(285,670),(232,688),(232,655),(215,625)]),
("Burkina Faso",[(272,565),(275,535),(305,490),(355,465),(375,465),(385,500),(410,515),(405,535),(370,550),(320,550),(300,575)]),
("Ghana",[(318,550),(370,548),(380,600),(385,652),(335,680),(315,670),(323,630)]),
("Togo",[(372,548),(387,550),(403,650),(385,655),(380,600)]),
("Benin",[(387,550),(415,525),(437,550),(437,570),(420,590),(420,648),(403,650),(398,580)]),
("Angola",[(597,900),(668,900),(690,945),(715,940),(740,920),(765,930),(775,1005),(808,1008),(808,1045),(768,1045),(765,1105),(790,1140),(750,1150),(700,1135),(620,1137),(600,1130),(582,1135),(585,1080),(620,1015),(605,960)]),
("Zambia",[(775,1005),(810,1010),(860,1020),(885,1030),(908,1052),(908,1032),(885,1020),(890,955),(930,950),(970,965),(980,1000),(965,1065),(918,1082),(918,1105),(890,1115),(855,1150),(825,1138),(790,1140),(765,1105),(768,1045),(808,1045)]),
("Malawi",[(970,970),(990,975),(998,1010),(995,1050),(1018,1085),(1015,1110),(1005,1125),(990,1080),(965,1065),(980,1000)]),
("Mozambique",[(998,1015),(1030,1020),(1105,990),(1110,1080),(1085,1125),(1040,1145),(995,1195),(1008,1240),(1000,1280),(950,1315),(955,1330),(940,1330),(940,1280),(930,1240),(955,1195),(965,1125),(920,1105),(918,1082),(965,1065),(990,1080),(1005,1125),(1015,1110),(1018,1085),(995,1050)]),
("Zimbabwe",[(855,1148),(890,1115),(920,1103),(965,1125),(955,1195),(930,1240),(895,1235),(870,1220),(865,1195),(830,1148)]),
("Botswana",[(748,1155),(790,1155),(825,1145),(865,1195),(870,1220),(895,1235),(860,1265),(825,1310),(780,1302),(745,1335),(725,1295),(727,1232),(745,1230)]),
("Namibia",[(582,1135),(600,1130),(620,1137),(700,1135),(750,1150),(790,1140),(825,1138),(790,1155),(748,1155),(745,1230),(727,1232),(722,1370),(695,1380),(665,1365),(635,1310),(625,1235)]),
("South Africa",[(660,1367),(695,1380),(722,1370),(725,1295),(745,1335),(780,1302),(825,1310),(860,1265),(895,1235),(930,1240),(940,1280),(940,1330),(955,1330),(945,1370),(920,1385),(890,1430),(850,1470),(780,1482),(715,1498),(690,1490),(683,1455),(688,1430)]),
("Eswatini",[(925,1310),(940,1320),(935,1343),(920,1340),(915,1328)]),
("Lesotho",[(870,1372),(888,1385),(865,1412),(848,1395)]),
("Madagascar",[(1265,1025),(1282,1060),(1285,1095),(1270,1110),(1210,1295),(1178,1308),(1152,1295),(1147,1240),(1170,1185),(1165,1130),(1210,1100),(1240,1065)]),
("Saudi Arabia",[(1050,115),(1090,130),(1150,172),(1190,175),(1220,190),(1255,235),(1295,275),(1300,300),(1360,312),(1368,340),(1362,362),(1305,385),(1250,395),(1220,425),(1155,415),(1148,435),(1120,395),(1075,340),(1065,305),(985,195),(990,170),(1025,145)]),
("Yemen",[(1148,420),(1220,425),(1250,395),(1310,385),(1330,430),(1290,462),(1240,490),(1165,515),(1150,470)]),
("Oman",[(1310,385),(1362,362),(1368,340),(1360,312),(1372,265),(1400,295),(1442,312),(1410,375),(1375,410),(1330,430)]),
("UAE",[(1295,278),(1330,272),(1372,232),(1358,312),(1300,300)]),
("Qatar",[(1272,235),(1285,240),(1290,265),(1278,270)]),
("Kuwait",[(1200,155),(1215,155),(1222,185),(1192,175)]),
]

OUTLINES_Z6 = [
("Sri Lanka",[(135,378),(158,425),(155,450),(140,460),(130,425)]),
("Myanmar",[(330,15),(345,40),(340,80),(385,130),(355,175),(350,230),(372,310),(385,345),(378,350),(358,260),(330,255),(315,250),(310,210),(280,140),(270,110),(285,85),(300,20)]),
("Thailand",[(355,175),(385,130),(395,175),(400,215),(430,205),(450,230),(462,280),(430,290),(425,320),(395,305),(395,330),(385,395),(395,400),(430,460),(420,465),(400,445),(375,410),(378,350),(370,285),(350,230)]),
("Laos",[(395,120),(420,135),(440,155),(435,180),(490,250),(490,290),(462,280),(450,230),(430,205),(400,215),(395,175),(385,130)]),
("Vietnam",[(400,115),(440,98),(480,130),(435,175),(490,240),(515,290),(515,340),(470,402),(458,370),(490,325),(492,290),(490,250),(435,180),(440,155),(420,135)]),
("Cambodia",[(430,285),(462,282),(490,290),(492,325),(470,345),(455,365),(437,350),(425,310)]),
("Malaysia",[(405,445),(430,460),(445,490),(447,525),(460,550),(450,558),(420,525),(405,480)]),
("Indonesia",[(338,468),(368,470),(410,530),(410,590),(450,600),(465,632),(485,645),(480,705),(460,700),(420,635),(400,580),(380,535),(350,500)]),
("Indonesia",[(480,703),(515,715),(545,715),(570,738),(608,755),(590,762),(515,742),(485,735),(470,722)]),
("Indonesia",[(640,490),(655,560),(638,600),(620,665),(595,665),(578,648),(540,642),(525,600),(525,545),(540,565),(595,555),(610,495)]),
("Malaysia",[(625,437),(655,470),(645,490),(610,495),(600,550),(560,555),(545,565),(532,543),(555,520),(580,515),(595,470)]),
("Brunei",[(605,472),(605,495),(595,498),(592,485)]),
("Indonesia",[(670,565),(740,550),(725,572),(680,570),(672,600),(715,597),(685,622),(705,670),(708,695),(690,680),(690,640),(675,635),(670,695),(660,697),(660,655),(652,640),(665,590)]),
("Indonesia",[(708,795),(730,765),(738,770),(720,795)]),
("Timor-Leste",[(730,762),(762,755),(735,775)]),
("Indonesia",[(622,768),(650,755),(650,765),(620,770)]),
("Indonesia",[(662,755),(700,750),(695,765),(665,765)]),
("Indonesia",[(650,778),(665,777),(672,795)]),
("Indonesia",[(748,648),(765,650),(760,660)]),
("Indonesia",[(775,643),(805,640),(812,660),(775,655)]),
("Indonesia",[(855,695),(862,700),(855,725)]),
("Indonesia",[(770,545),(775,535),(785,560),(780,600),(770,575)]),
("Indonesia",[(810,600),(855,590),(862,635),(830,635),(860,645),(880,650),(905,615),(948,635),(943,770),(900,755),(912,730),(910,695),(880,675),(850,665),(845,650),(830,640)]),
("PNG",[(948,635),(1000,660),(1012,695),(1035,715),(1000,740),(1035,790),(1070,795),(1055,800),(1030,792),(1010,745),(985,745),(975,772),(943,770)]),
("PNG",[(1042,697),(1070,695),(1095,670),(1098,685),(1075,712),(1050,710)]),
("PNG",[(1078,635),(1100,650),(1110,680),(1100,680),(1090,650)]),
("Solomon",[(1127,687),(1143,720),(1135,725),(1127,700)]),
("Solomon",[(1150,718),(1165,735),(1158,735)]),
("Solomon",[(1172,735),(1195,755),(1190,760)]),
("Solomon",[(1200,755),(1210,755),(1215,785),(1210,782)]),
("Solomon",[(1188,775),(1200,775),(1205,788),(1190,785)]),
("Solomon",[(1210,795),(1222,805),(1212,805)]),
("Philippines",[(655,197),(678,200),(682,245),(672,285),(705,295),(712,318),(690,302),(665,295),(650,270),(652,230)]),
("Philippines",[(660,305),(672,303),(678,328)]),
("Philippines",[(655,345),(658,365),(628,408),(640,375)]),
("Philippines",[(685,335),(702,345),(698,365),(688,365)]),
("Philippines",[(718,325),(735,325),(737,352),(720,345)]),
("Philippines",[(705,355),(715,350),(715,380),(705,395),(695,375)]),
("Philippines",[(735,378),(750,400),(752,440),(740,465),(718,440),(715,420),(692,438),(695,420),(710,405),(732,395)]),
("Taiwan",[(645,58),(652,65),(648,125),(632,95)]),
("China",[(497,170),(525,168),(510,205),(495,195)]),
("Australia",[(820,812),(840,830),(880,828),(860,890),(895,935),(910,945),(925,935),(940,880),(958,803),(970,878),(985,875),(990,965),(1018,1005),(1025,1045),(1033,1040),(1035,1070),(1052,1105),(1045,1175),(1000,1255),(960,1310),(935,1355),(895,1375),(877,1392),(865,1370),(845,1387),(815,1370),(812,1335),(820,1300),(805,1310),(790,1310),(815,1265),(790,1285),(780,1305),(770,1250),(740,1237),(670,1252),(640,1268),(630,1285),(580,1285),(555,1307),(535,1307),(520,1288),(540,1265),(545,1210),(538,1115),(543,1080),(558,1035),(600,1010),(650,990),(690,925),(695,935),(720,890),(750,868),(770,890),(795,840),(815,830)]),
("Australia",[(842,1425),(885,1428),(855,1478),(830,1485),(835,1445)]),
("New Zealand",[(1245,1297),(1255,1340),(1258,1360),(1287,1362),(1255,1395),(1210,1445),(1200,1440),(1220,1395),(1240,1360),(1243,1320)]),
("New Zealand",[(1190,1425),(1195,1440),(1170,1450),(1135,1490),(1095,1535),(1060,1545),(1047,1535),(1075,1505),(1125,1470),(1165,1430)]),
("New Caledonia",[(1217,998),(1228,1005),(1250,1045),(1240,1045),(1220,1020)]),
("Fiji",[(1400,945),(1418,940),(1415,958),(1402,960)]),
("Fiji",[(1422,928),(1440,915),(1438,925),(1422,935)]),
("Vanuatu",[(1270,885),(1275,905),(1268,905)]),
("Vanuatu",[(1272,910),(1280,925),(1275,925)]),
]

OUTLINES_GL = [
("Greenland",[(57,150),(230,118),(195,103),(318,80),(318,68),(470,62),(480,68),(535,58),(590,68),(620,73),(590,58),(660,42),(730,42),(760,37),(930,37),(1030,53),(985,62),(960,70),(840,62),(860,68),(990,68),(1005,75),(985,82),(1115,70),(1165,72),(1170,80),(1030,103),(1075,103),(1040,125),(1020,160),(1040,178),(975,185),(1008,198),(1010,218),(985,222),(1008,240),(963,243),(985,255),(975,265),(918,268),(940,285),(940,295),(905,287),(890,292),(935,310),(943,335),(905,340),(872,315),(875,333),(850,347),(928,350),(810,393),(720,403),(690,415),(660,442),(610,460),(530,476),(510,490),(500,520),(445,552),(445,578),(407,628),(375,630),(350,605),(303,605),(290,590),(283,560),(260,520),(265,485),(247,458),(262,440),(255,430),(290,395),(330,385),(352,352),(295,372),(268,362),(290,332),(347,338),(315,315),(290,318),(275,308),(310,285),(292,235),(275,222),(280,213),(240,197),(105,198),(68,177),(160,168),(75,160)]),
("Iceland",[(860,472),(885,452),(912,448),(942,467),(978,452),(1005,460),(1040,445),(1073,448),(1065,470),(1088,485),(1058,508),(975,530),(885,518),(915,505),(868,493),(905,485),(903,478)]),
]

OUTLINES_D = [
("Puerto Rico",[(925,790),(932,788),(934,793),(926,794)]),
]

# tiny islands drawn as dots, in outline units of their frame
DOTS_X = [652,677,677,683,690,683,722,670]
DOTS_Y = [27,20,30,67,97,110,112,133]
DOTS_Z4_X = [490,1157,1170,1385,1405]
DOTS_Z4_Y = [772,1020,1032,875,1197]
DOTS_Z6_X = [903,858,1085,1173,1238,1345,1327,1295,1412,1425,1440,1448,1456,1412,48,48]
DOTS_Z6_Y = [383,427,428,438,471,434,460,592,699,730,747,758,775,841,495,513]
DOTS_D_X = [562,565,568,560,400,406,403]
DOTS_D_Y = [471,475,478,478,466,468,472]

SOURCE_LINES = ["Source: Global Carbon Project (2022); Population based on various sources (2023)",
                "OurWorldInData.org/co2-and-greenhouse-gas-emissions \u2022 CC BY"]

# ---------- figure ----------
DPI = 100
plt.rcParams["font.family"] = ["Liberation Sans", "DejaVu Sans"]
fig = plt.figure(figsize=(34, 26.68), dpi=DPI)
ax = fig.add_axes([0, 0, 1, 1])
ax.set_xlim(0, 3400); ax.set_ylim(2668, 0); ax.axis("off")

cmap = ListedColormap(BIN_COLORS)
norm = BoundaryNorm(BIN_EDGES, cmap.N)

def to_px(frame, ring):
    ox, oy, sx, sy = FRAMES[frame]
    a = np.asarray(ring, float)
    return np.column_stack([ox + a[:, 0]*sx, oy + a[:, 1]*sy])

def hatch_lines(patch, verts, spacing=34, color="#d0d0d0"):
    """Sparse 45-degree stripes, clipped to the patch."""
    lo, hi = (verts[:, 0] + verts[:, 1]).min(), (verts[:, 0] + verts[:, 1]).max()
    for c in np.arange(lo + spacing/2, hi, spacing):
        ln, = ax.plot([verts[:, 0].min()-5, verts[:, 0].max()+5],
                      [c - verts[:, 0].min() + 5, c - verts[:, 0].max() - 5],
                      color=color, lw=1.5, zorder=patch.get_zorder()+.1, scalex=False, scaley=False)
        ln.set_clip_path(patch)

patches, vals, nodata = [], [], []
for frame, group in [("z1", OUTLINES_Z1), ("z2", OUTLINES_Z2), ("z5", OUTLINES_Z5), ("z3", OUTLINES_Z3),
                     ("z4", OUTLINES_Z4), ("z6", OUTLINES_Z6), ("gl", OUTLINES_GL), ("d", OUTLINES_D)]:
    for name, ring in group:
        v = CO2[name]
        verts = to_px(frame, ring)
        if v is None:
            nodata.append(verts)
        else:
            patches.append(Polygon(verts, closed=True)); vals.append(v)

pc = PatchCollection(patches, cmap=cmap, norm=norm, edgecolor="#3c3c3c", linewidth=1.1, joinstyle="round", zorder=2)
pc.set_array(np.array(vals))
ax.add_collection(pc)
for verts in nodata:
    p = Polygon(verts, closed=True, facecolor="white", edgecolor="#aaaaaa", linewidth=1.0, zorder=2)
    ax.add_patch(p)
    hatch_lines(p, verts)

dot_groups = [("z2", DOTS_X, DOTS_Y), ("z4", DOTS_Z4_X, DOTS_Z4_Y), ("z6", DOTS_Z6_X, DOTS_Z6_Y), ("d", DOTS_D_X, DOTS_D_Y)]
for frame, xs, ys in dot_groups:
    pts = to_px(frame, list(zip(xs, ys)))
    ax.scatter(pts[:, 0], pts[:, 1], s=5, color="#555555", linewidths=0, zorder=3)

# ---------- text helper ----------
renderer = fig.canvas.get_renderer()
def runs(x, y, parts, color="#6a6a6a", size=36, family=None):
    for part in parts:
        s, opts = part if isinstance(part, tuple) else (part, {})
        fs = size*opts.get("scale", 1)
        kw = {"family": family} if family else {}
        t = ax.text(x, y + opts.get("dy", 0), s, fontsize=fs, color=color, va="baseline", ha="left",
                    fontweight=opts.get("weight", "normal"), **kw)
        x += t.get_window_extent(renderer).width + opts.get("pad", 0)
    return x

SUB = {"scale": .62, "dy": 6, "pad": 5}
runs(63, 147, ["Per capita CO", ("2", {"scale": .74}), " emissions, 2021"], color="#5b5b5b", size=80, family="Liberation Serif")
runs(61, 233, ["Carbon dioxide (CO", ("\u2009", {}), ("2", SUB), ") emissions from fossil fuels and industry",
               ("1", {"scale": .6, "dy": -22, "pad": 10}), ". Land use change is not included."], size=41.4)

# logo
ax.add_patch(Rectangle((3096, 60), 243, 123, color="#002147", lw=0))
ax.add_patch(Rectangle((3096, 183), 243, 16, color="#ce261e", lw=0))
ax.text(3217.5, 115, "Our World", family="Lato", fontsize=34, color="white", ha="center", va="baseline")
ax.text(3217.5, 167, "in Data", family="Lato", fontsize=34, color="white", ha="center", va="baseline")

# ---------- legend ----------
BAR_X0, BAR_STEP, BAR_Y0, BAR_Y1, BAR_END, BAR_TIP = 780, 234.3, 2064, 2104, 2867, 2888
for i, lab in enumerate(BIN_LABELS):
    x = BAR_X0 + i*BAR_STEP
    x1 = x + BAR_STEP if i < 8 else BAR_END
    col = cmap(norm((BIN_EDGES[i] + BIN_EDGES[i+1])/2))
    if i < 8:
        ax.add_patch(Rectangle((x, BAR_Y0), x1-x, BAR_Y1-BAR_Y0, facecolor=col, edgecolor="#777777", lw=.9, zorder=2))
    else:
        ax.add_patch(Polygon([(x, BAR_Y0), (x1, BAR_Y0), (BAR_TIP, (BAR_Y0+BAR_Y1)/2), (x1, BAR_Y1), (x, BAR_Y1)],
                             facecolor=col, edgecolor="#555555", lw=.9, zorder=2))
    ax.plot([x, x], [BAR_Y0-12, BAR_Y0], color="#666666", lw=.8, zorder=1)
    ax.text(x, 2037, lab, fontsize=38.5, color="#111111", ha="center", va="baseline")
nd_verts = np.array([(511, BAR_Y0), (701, BAR_Y0), (701, BAR_Y1), (511, BAR_Y1)], float)
nd = Polygon(nd_verts, closed=True, facecolor="white", edgecolor="#777777", lw=.9, zorder=2)
ax.add_patch(nd)
hatch_lines(nd, nd_verts, spacing=30)
ax.plot([606, 606], [BAR_Y0-12, BAR_Y0], color="#bbbbbb", lw=.8, zorder=1)
ax.text(606, 2037, "No data", fontsize=38.5, color="#111111", ha="center", va="baseline")

# ---------- footer ----------
ax.text(61, 2265, SOURCE_LINES[0], fontsize=36.3, color="#777777", va="baseline")
ax.text(61, 2328, SOURCE_LINES[1], fontsize=36.3, color="#777777", va="baseline")
ax.plot([61, 3340], [2399, 2399], color="#808080", lw=2.8, solid_capstyle="butt")
SUBF = {"scale": .62, "dy": 6, "pad": 5}
runs(61, 2504, [("1. Fossil emissions", {"weight": "bold"}),
                ": Fossil emissions measure the quantity of carbon dioxide (CO", ("\u2009", {}), ("2", SUBF),
                ") emitted from the burning of fossil fuels, and directly from industrial"], size=34.5)
runs(61, 2561, ["processes such as cement and steel production. Fossil CO", ("\u2009", {}), ("2", SUBF),
                " includes emissions from coal, oil, gas, flaring, cement, steel, and other industrial processes."], size=34.5)
runs(61, 2619, ["Fossil emissions do not include land use change, deforestation, soils, or vegetation."], size=34.5)

fig.savefig("out.png", dpi=DPI, facecolor="white")
